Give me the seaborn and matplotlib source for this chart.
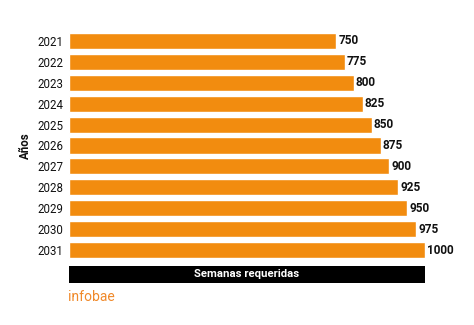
import matplotlib
matplotlib.use("Agg")
import matplotlib.pyplot as plt
import seaborn as sns
import pandas as pd
from matplotlib.patches import Rectangle

years = ["2021", "2022", "2023", "2024", "2025", "2026", "2027", "2028", "2029", "2030", "2031"]
weeks = [750, 775, 800, 825, 850, 875, 900, 925, 950, 975, 1000]

sns.set_theme(style="white")
plt.rcParams["font.family"] = ["Roboto", "DejaVu Sans"]

df = pd.DataFrame({"Años": years, "Semanas": weeks})

fig = plt.figure(figsize=(4.74, 3.25), dpi=100)
ax = fig.add_axes([69/474, (325-260.5)/325, 356/474, 230/325])
sns.barplot(data=df, y="Años", x="Semanas", orient="h", color="#f28c0f",
            saturation=1, width=0.77, ax=ax)
ax.set_xlim(0, 1000)
for sp in ax.spines.values():
    sp.set_visible(False)
ax.set_xticks([])
ax.set_xlabel("")
ax.tick_params(axis="y", length=0, pad=4, labelsize=8.3, labelcolor="#111111")
ax.set_ylabel("Años", fontsize=8.3, fontweight="bold", color="#111111", labelpad=4)

for i, v in enumerate(weeks):
    ax.text(v + 6, i, str(v), va="center", ha="left", fontsize=8.5,
            fontweight="bold", color="#111111", clip_on=False)

# black bar with title
fig.patches.append(Rectangle((69/474, (325-282.5)/325), 356/474, 16.5/325,
                             transform=fig.transFigure, facecolor="black",
                             edgecolor="none"))
fig.text((69+425)/2/474, (325-274)/325, "Semanas requeridas", color="white",
         fontsize=8.2, fontweight="bold", ha="center", va="center")
fig.text(68/474, (325-297)/325, "infobae", color="#f0892a", fontsize=10,
         ha="left", va="center")

fig.savefig("out.png", dpi=100)
